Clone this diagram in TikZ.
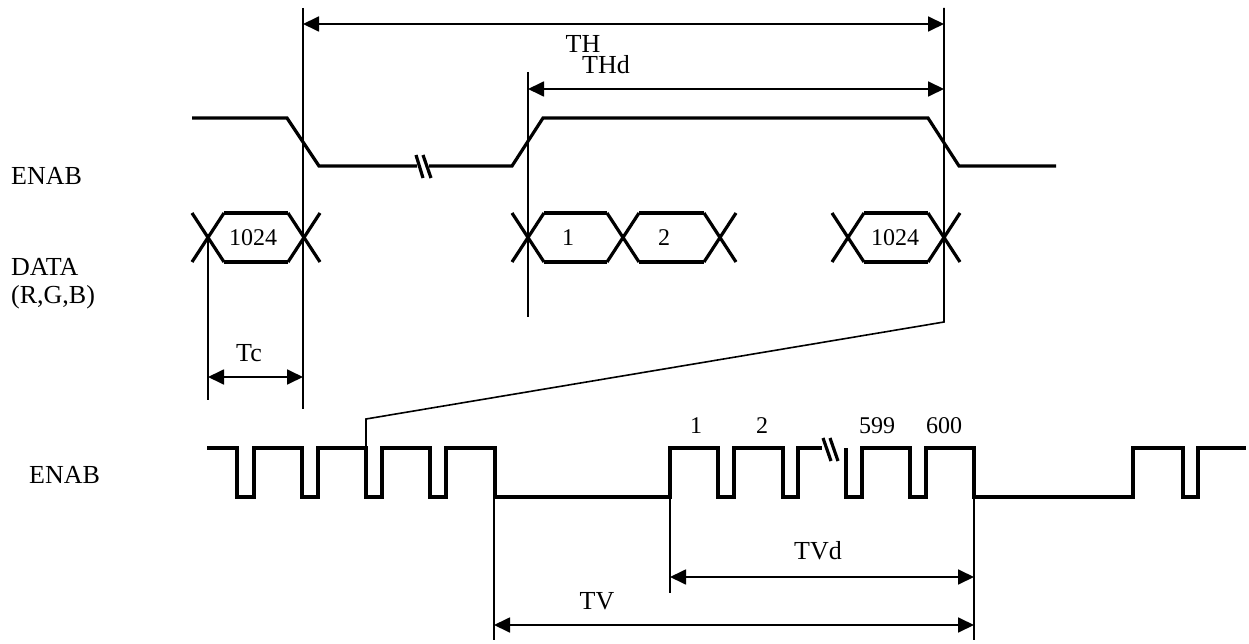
\documentclass[tikz,border=0pt]{standalone}
\usepackage{fontspec}
\setmainfont{Liberation Serif}
\usepackage{tikz}
\usetikzlibrary{arrows.meta}
\tikzset{wave/.style={line width=3.2pt},guide/.style={line width=1.6pt},dim/.style={{Triangle[length=16pt,width=15pt]}-{Triangle[length=16pt,width=15pt]},line width=1.8pt},lbl/.style={font=\fontsize{26}{28}\selectfont,inner sep=0pt},num/.style={font=\fontsize{24}{26}\selectfont,inner sep=0pt}}
\begin{document}
\begin{tikzpicture}[x=1pt,y=-1pt]
\useasboundingbox (0,0) rectangle (1249,644);
% signal names
\node[lbl,anchor=west] (enabtop) at (11,176) {ENAB};
\node[lbl,anchor=north west,align=left] (data) at (11,258) {DATA\\(R,G,B)};
\node[lbl,anchor=west] (enabbot) at (29,475) {ENAB};
% line ENAB
\draw[wave] (192,118) -- (287,118) -- (319,166) -- (417,166);
\draw[wave] (429,166) -- (512,166) -- (543,118) -- (928,118) -- (959,166) -- (1056,166);
\draw[wave] (416,155) -- (423,178) (423,155) -- (431,178);
% data
\foreach \c in {208,304,528,623,720,848,944}
  \draw[wave] (\c-16,213) -- (\c+16,262) (\c-16,262) -- (\c+16,213);
\foreach \a/\b in {208/304,528/623,623/720,848/944}
  \draw[wave] (\a+16,213) -- (\b-16,213) (\a+16,262) -- (\b-16,262);
\node[num] (d1024a) at (253,238) {1024};
\node[num] (d1) at (568,238) {1};
\node[num] (d2) at (664,238) {2};
\node[num] (d1024b) at (895,238) {1024};
% frame ENAB
\draw[wave] (207,448) -| (237,497) -| (254,448) -| (302,497) -| (318,448) -| (366,497) -| (382,448) -| (430,497) -| (446,448) -| (495,497) -| (670,448) -| (718,497) -| (734,448) -| (783,497) -| (798,448) -- (822,448);
\draw[wave] (823,438) -- (831,461) (830,438) -- (838,461);
\draw[wave] (846,448) -- (846,497) -| (862,448) -| (910,497) -| (926,448) -| (974,497) -| (1133,448) -| (1183,497) -| (1198,448) -- (1246,448);
\node[num] (l1) at (696,426) {1};
\node[num] (l2) at (762,426) {2};
\node[num] (l599) at (877,426) {599};
\node[num] (l600) at (944,426) {600};
% guides
\coordinate (tcl) at (208,400);
\coordinate (tcr) at (303,409);
\coordinate (thl) at (303,8);
\coordinate (thdl) at (528,72);
\coordinate (thr) at (944,8);
\coordinate (tvl) at (494,640);
\coordinate (tvdl) at (670,593);
\coordinate (tvr) at (974,640);
\draw[guide] (208,237) -- (tcl);
\draw[guide] (thl) -- (tcr);
\draw[guide] (thdl) -- (528,317);
\draw[guide] (thr) -- (944,322) -- (366,419) -- (366,448);
\draw[guide] (494,497) -- (tvl);
\draw[guide] (670,497) -- (tvdl);
\draw[guide] (974,497) -- (tvr);
% dimensions
\draw[dim] (303,24) -- (944,24);
\node[lbl] (th) at (583,44) {TH};
\draw[dim] (528,89) -- (944,89);
\node[lbl] (thd) at (606,65) {THd};
\draw[dim] (208,377) -- (303,377);
\node[lbl] (tc) at (249,353) {Tc};
\draw[dim] (670,577) -- (974,577);
\node[lbl] (tvd) at (818,551) {TVd};
\draw[dim] (494,625) -- (974,625);
\node[lbl] (tv) at (597,601) {TV};
\end{tikzpicture}
\end{document}
